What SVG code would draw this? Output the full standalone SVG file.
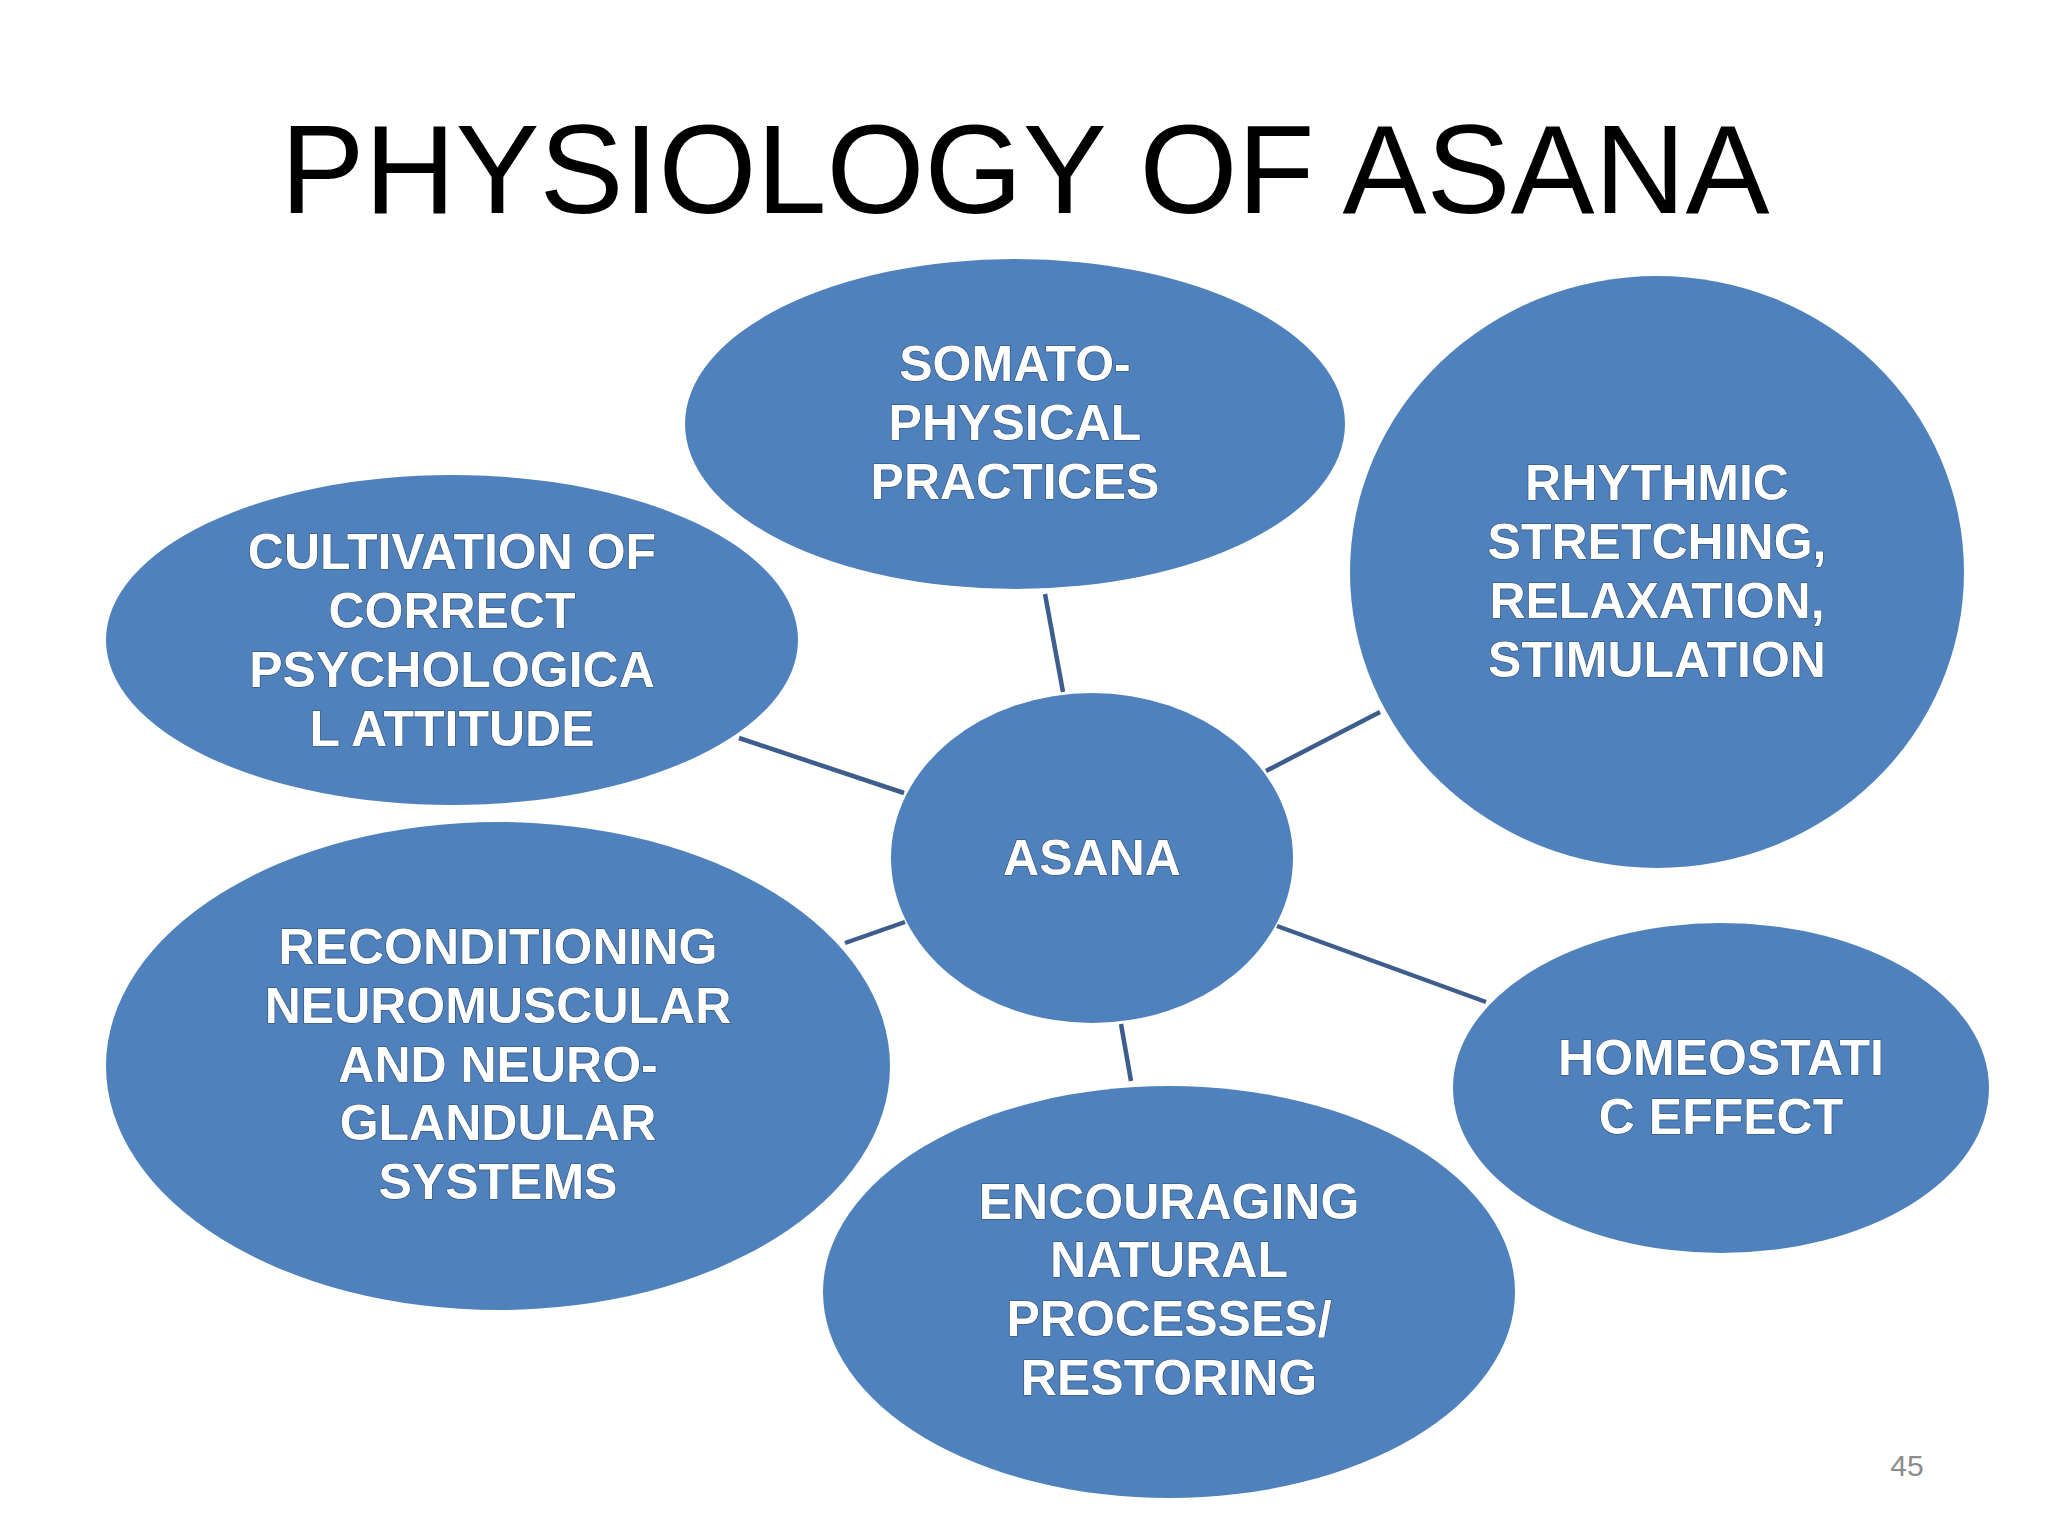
<svg xmlns="http://www.w3.org/2000/svg" width="2048" height="1536" viewBox="0 0 2048 1536">
<style>
.n{fill:#4f81bd}
.t{font-family:"Liberation Sans",Arial,sans-serif;font-weight:bold;font-size:50px;fill:#fff;text-anchor:middle;stroke:#2c4a70;stroke-width:1.2px;paint-order:stroke}
.c{stroke:#3d5d8c;stroke-width:4.5}
</style>
<rect width="2048" height="1536" fill="#fff"/>
<text x="1025" y="213" font-family="Liberation Sans,Arial,sans-serif" font-size="126" text-anchor="middle" fill="#000">PHYSIOLOGY OF ASANA</text>
<g id="connectors">
<line class="c" x1="1045" y1="594" x2="1063" y2="692"/>
<line class="c" x1="1266" y1="771" x2="1380" y2="712"/>
<line class="c" x1="739" y1="738" x2="904" y2="793"/>
<line class="c" x1="845" y1="943" x2="905" y2="922"/>
<line class="c" x1="1277" y1="926" x2="1486" y2="1002"/>
<line class="c" x1="1121" y1="1024" x2="1131" y2="1081"/>
</g>
<g id="somato"><ellipse class="n" cx="1015" cy="424" rx="330" ry="165"/>
<text class="t" x="1015" y="381">SOMATO-</text><text class="t" x="1015" y="440">PHYSICAL</text><text class="t" x="1015" y="499">PRACTICES</text></g>
<g id="rhythmic"><ellipse class="n" cx="1657" cy="572" rx="307" ry="296"/>
<text class="t" x="1657" y="500">RHYTHMIC</text><text class="t" x="1657" y="559">STRETCHING,</text><text class="t" x="1657" y="618">RELAXATION,</text><text class="t" x="1657" y="677">STIMULATION</text></g>
<g id="cultivation"><ellipse class="n" cx="452" cy="640" rx="346" ry="165"/>
<text class="t" x="452" y="569">CULTIVATION OF</text><text class="t" x="452" y="628">CORRECT</text><text class="t" x="452" y="687">PSYCHOLOGICA</text><text class="t" x="452" y="746">L ATTITUDE</text></g>
<g id="asana"><ellipse class="n" cx="1092" cy="858" rx="201" ry="165"/>
<text class="t" x="1092" y="875">ASANA</text></g>
<g id="reconditioning"><ellipse class="n" cx="498" cy="1066" rx="392" ry="244"/>
<text class="t" x="498" y="964">RECONDITIONING</text><text class="t" x="498" y="1023">NEUROMUSCULAR</text><text class="t" x="498" y="1082">AND NEURO-</text><text class="t" x="498" y="1140">GLANDULAR</text><text class="t" x="498" y="1199">SYSTEMS</text></g>
<g id="homeostatic"><ellipse class="n" cx="1721" cy="1088" rx="268" ry="165"/>
<text class="t" x="1721" y="1075">HOMEOSTATI</text><text class="t" x="1721" y="1134">C EFFECT</text></g>
<g id="encouraging"><ellipse class="n" cx="1169" cy="1292" rx="346" ry="206"/>
<text class="t" x="1169" y="1219">ENCOURAGING</text><text class="t" x="1169" y="1277">NATURAL</text><text class="t" x="1169" y="1336">PROCESSES/</text><text class="t" x="1169" y="1395">RESTORING</text></g>
<text x="1907" y="1476" font-family="Liberation Sans,Arial,sans-serif" font-size="30" text-anchor="middle" fill="#8c8c8c">45</text>
</svg>
